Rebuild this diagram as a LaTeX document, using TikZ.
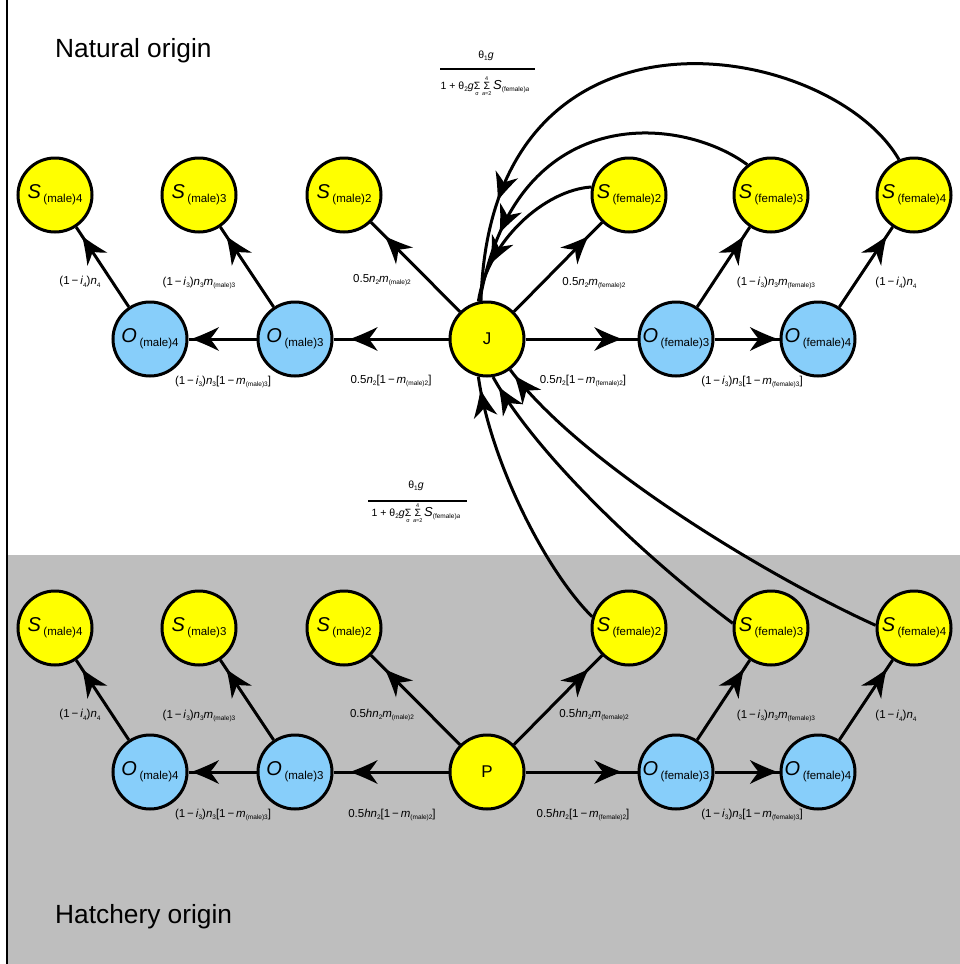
\documentclass[tikz,border=0pt]{standalone}
\usepackage{fontspec}
\setmainfont{Liberation Sans}
\usetikzlibrary{decorations.markings}
\definecolor{nodeY}{RGB}{255,255,0}
\definecolor{nodeB}{RGB}{135,206,250}
\definecolor{bgG}{RGB}{190,190,190}
\newcommand\nodelab[2]{{\fontsize{20}{20}\selectfont\textit{#1}}\hspace{2.5pt}\raisebox{-4pt}{\fontsize{11.5}{11.5}\selectfont #2}}
\newcommand\lsb[1]{\raisebox{-2.2pt}{\fontsize{6.5}{6.5}\selectfont #1}}
\newcommand\mi{\,−\,}
\newcommand\bigsum[2]{\mathop{\hbox{\fontsize{10.5}{10.5}\selectfont Σ}}\limits_{\hbox{\fontsize{5.5}{5.5}\selectfont #1}}^{\hbox{\fontsize{5.5}{5.5}\selectfont #2}}}
\newcommand\denom{1 + θ\lsb{2}\textit{g}$\bigsum{σ}{}\bigsum{\textit{a}=2}{4}$\,{\fontsize{13}{13}\selectfont\textit{S}}\lsb{(female)\textit{a}}}
\tikzset{
  stnode/.style={circle, draw=black, line width=3pt, minimum size=74pt, inner sep=0pt, fill=nodeY},
  obnode/.style={stnode, fill=nodeB},
  edge/.style={line width=3pt},
  elab/.style={font=\fontsize{11.5}{13}\selectfont, inner sep=0pt},
  fraclab/.style={font=\fontsize{10.5}{12}\selectfont, inner sep=0pt},
  title/.style={anchor=base west, inner sep=0pt, font=\fontsize{26.3}{30}\selectfont},
  tipat/.style={postaction={decorate}, decoration={markings, mark=at position #1 with {\fill[black] (1pt,0pt) .. controls (-8pt,-3pt) and (-19pt,-8pt) .. (-27pt,-12pt) .. controls (-23pt,-6pt) and (-20pt,-2pt) .. (-18pt,0pt) .. controls (-20pt,2pt) and (-23pt,6pt) .. (-27pt,12pt) .. controls (-19pt,8pt) and (-8pt,3pt) .. (1pt,0pt) -- cycle;}}},
}
\newcommand\arr[2]{\draw[edge] (#1) -- (#2); \path[tipat=0.71] (#1.center) -- (#2.center);}
\begin{document}
\begin{tikzpicture}[x=1pt, y=-1pt]
\useasboundingbox (0,0) rectangle (960,964);
\fill[bgG] (8,555) rectangle (960,964);
\draw[line width=1.5pt] (7,0) -- (7,964);
\node[title] (nat) at (55,57) {Natural origin};
\node[title] (hat) at (55,923) {Hatchery origin};
% top nodes
\node[stnode] (Sm4) at (55,195) {\nodelab{S}{(male)4}};
\node[stnode] (Sm3) at (199,195) {\nodelab{S}{(male)3}};
\node[stnode] (Sm2) at (344,195) {\nodelab{S}{(male)2}};
\node[stnode] (Sf2) at (629,195) {\nodelab{S}{(female)2}};
\node[stnode] (Sf3) at (771,195) {\nodelab{S}{(female)3}};
\node[stnode] (Sf4) at (914,195) {\nodelab{S}{(female)4}};
\node[obnode] (Om4) at (150,339) {\nodelab{O}{(male)4}};
\node[obnode] (Om3) at (295,339) {\nodelab{O}{(male)3}};
\node[stnode] (J) at (487,339) {\fontsize{17}{17}\selectfont J};
\node[obnode] (Of3) at (676,339) {\nodelab{O}{(female)3}};
\node[obnode] (Of4) at (818,339) {\nodelab{O}{(female)4}};
% bottom nodes
\node[stnode] (Sm4b) at (55,628) {\nodelab{S}{(male)4}};
\node[stnode] (Sm3b) at (199,628) {\nodelab{S}{(male)3}};
\node[stnode] (Sm2b) at (344,628) {\nodelab{S}{(male)2}};
\node[stnode] (Sf2b) at (629,628) {\nodelab{S}{(female)2}};
\node[stnode] (Sf3b) at (771,628) {\nodelab{S}{(female)3}};
\node[stnode] (Sf4b) at (914,628) {\nodelab{S}{(female)4}};
\node[obnode] (Om4b) at (150,772) {\nodelab{O}{(male)4}};
\node[obnode] (Om3b) at (295,772) {\nodelab{O}{(male)3}};
\node[stnode] (P) at (487,772) {\fontsize{17}{17}\selectfont P};
\node[obnode] (Of3b) at (676,772) {\nodelab{O}{(female)3}};
\node[obnode] (Of4b) at (818,772) {\nodelab{O}{(female)4}};
% straight edges
\arr{J}{Sm2} \arr{J}{Sf2} \arr{J}{Om3} \arr{J}{Of3}
\arr{Om3}{Sm3} \arr{Om3}{Om4} \arr{Om4}{Sm4}
\arr{Of3}{Sf3} \arr{Of3}{Of4} \arr{Of4}{Sf4}
\arr{P}{Sm2b} \arr{P}{Sf2b} \arr{P}{Om3b} \arr{P}{Of3b}
\arr{Om3b}{Sm3b} \arr{Om3b}{Om4b} \arr{Om4b}{Sm4b}
\arr{Of3b}{Sf3b} \arr{Of3b}{Of4b} \arr{Of4b}{Sf4b}
% curved edges to J
\draw[edge, tipat=-40pt] (Sf2.168) .. controls (545,190) and (488,240) .. (J.103);
\draw[edge, tipat=-72pt] (Sf3.128) .. controls (680,115) and (515,100) .. (J.101);
\draw[edge, tipat=-103pt] (Sf4.113) .. controls (830,40) and (490,-20) .. (J.99);
\draw[edge, tipat=-14pt] (Sf2b.163) .. controls (545,570) and (490,460) .. (J.257);
\draw[edge, tipat=-12pt] (Sf3b.173) .. controls (652,563) and (538,458) .. (J.279);
\draw[edge, tipat=-8pt] (Sf4b.176) .. controls (775,580) and (582,466) .. (J.307);
% fractions
\node[fraclab] (num1) at (486,56) {θ\lsb{1}\textit{g}};
\coordinate (f1l) at (440,69); \coordinate (f1r) at (535,69);
\draw[line width=1.5pt] (f1l) -- (f1r);
\node[fraclab] (den1) at (485,86) {\denom};
\node[fraclab] (num2) at (416,486) {θ\lsb{1}\textit{g}};
\coordinate (f2l) at (368,501); \coordinate (f2r) at (467,501);
\draw[line width=1.5pt] (f2l) -- (f2r);
\node[fraclab] (den2) at (416,513) {\denom};
% top labels
\node[elab] (l1) at (382,280) {0.5\textit{n}\lsb{2}\textit{m}\lsb{(male)2}};
\node[elab] (l2) at (594,283) {0.5\textit{n}\lsb{2}\textit{m}\lsb{(female)2}};
\node[elab] (l3) at (391,381) {0.5\textit{n}\lsb{2}[1\mi\textit{m}\lsb{(male)2}]};
\node[elab] (l4) at (583,381) {0.5\textit{n}\lsb{2}[1\mi\textit{m}\lsb{(female)2}]};
\node[elab] (l5) at (199,283) {(1\mi\textit{i}\lsb{3})\textit{n}\lsb{3}\textit{m}\lsb{(male)3}};
\node[elab] (l6) at (223,382) {(1\mi\textit{i}\lsb{3})\textit{n}\lsb{3}[1\mi\textit{m}\lsb{(male)3}]};
\node[elab] (l7) at (80,282) {(1\mi\textit{i}\lsb{4})\textit{n}\lsb{4}};
\node[elab] (l8) at (776,283) {(1\mi\textit{i}\lsb{3})\textit{n}\lsb{3}\textit{m}\lsb{(female)3}};
\node[elab] (l9) at (752,382) {(1\mi\textit{i}\lsb{3})\textit{n}\lsb{3}[1\mi\textit{m}\lsb{(female)3}]};
\node[elab] (l10) at (896,283) {(1\mi\textit{i}\lsb{4})\textit{n}\lsb{4}};
% bottom labels
\node[elab] (b1) at (382,715) {0.5\textit{hn}\lsb{2}\textit{m}\lsb{(male)2}};
\node[elab] (b2) at (594,715) {0.5\textit{hn}\lsb{2}\textit{m}\lsb{(female)2}};
\node[elab] (b3) at (392,815) {0.5\textit{hn}\lsb{2}[1\mi\textit{m}\lsb{(male)2}]};
\node[elab] (b4) at (583,815) {0.5\textit{hn}\lsb{2}[1\mi\textit{m}\lsb{(female)2}]};
\node[elab] (b5) at (199,716) {(1\mi\textit{i}\lsb{3})\textit{n}\lsb{3}\textit{m}\lsb{(male)3}};
\node[elab] (b6) at (223,815) {(1\mi\textit{i}\lsb{3})\textit{n}\lsb{3}[1\mi\textit{m}\lsb{(male)3}]};
\node[elab] (b7) at (80,715) {(1\mi\textit{i}\lsb{4})\textit{n}\lsb{4}};
\node[elab] (b8) at (776,716) {(1\mi\textit{i}\lsb{3})\textit{n}\lsb{3}\textit{m}\lsb{(female)3}};
\node[elab] (b9) at (752,815) {(1\mi\textit{i}\lsb{3})\textit{n}\lsb{3}[1\mi\textit{m}\lsb{(female)3}]};
\node[elab] (b10) at (896,716) {(1\mi\textit{i}\lsb{4})\textit{n}\lsb{4}};
\end{tikzpicture}
\end{document}
